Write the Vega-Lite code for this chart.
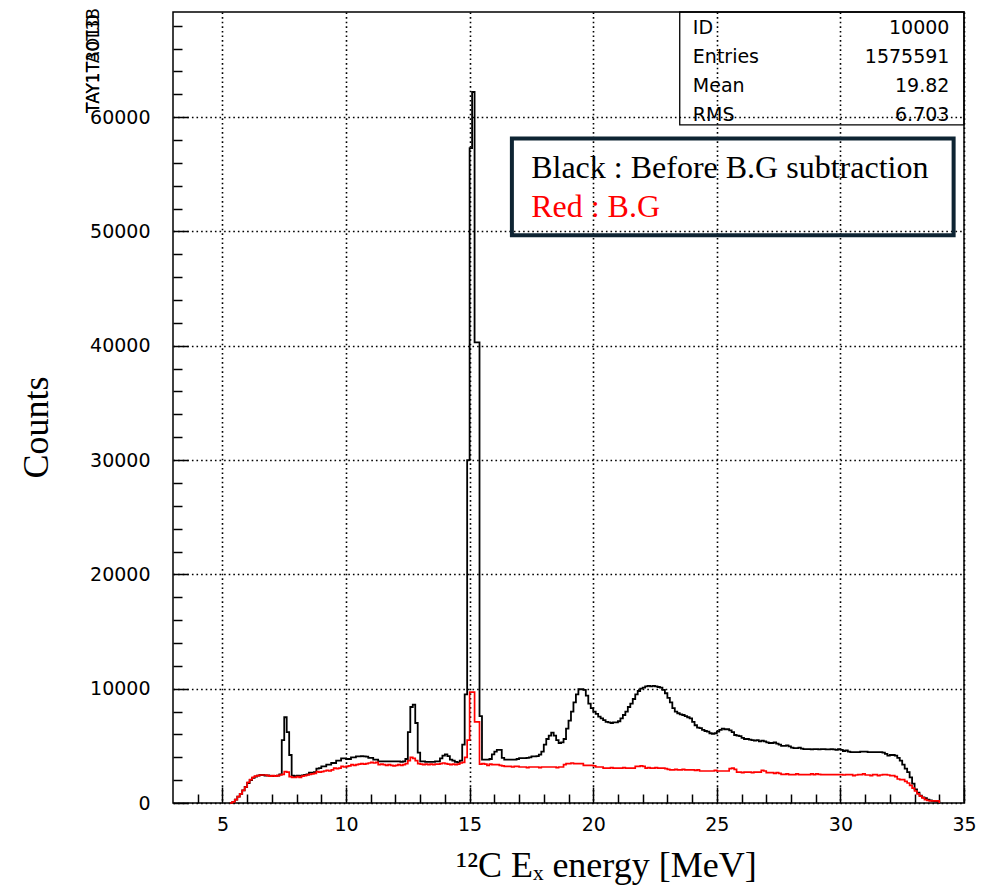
{
  "$schema": "https://vega.github.io/schema/vega-lite/v6.json",
  "width": 791,
  "height": 791,
  "autosize": {"type": "none"},
  "padding": {"left": 173, "top": 12, "right": 17, "bottom": 82},
  "background": "white",
  "config": {"view": {"stroke": "black", "strokeWidth": 1.5}},
  "data": {"values": [
    {"E":5.3,"black":0,"red":0},{"E":5.4,"black":100,"red":100},{"E":5.5,"black":300,"red":300},{"E":5.6,"black":550,"red":550},{"E":5.7,"black":800,"red":800},{"E":5.8,"black":1100,"red":1100},{"E":5.9,"black":1400,"red":1400},
    {"E":6.0,"black":1750,"red":1800},{"E":6.1,"black":2000,"red":2050},{"E":6.2,"black":2200,"red":2250},{"E":6.3,"black":2300,"red":2350},{"E":6.4,"black":2400,"red":2400},{"E":6.5,"black":2450,"red":2450},{"E":6.6,"black":2450,"red":2450},{"E":6.7,"black":2400,"red":2450},{"E":6.8,"black":2420,"red":2400},{"E":6.9,"black":2350,"red":2350},
    {"E":7.0,"black":2350,"red":2400},{"E":7.1,"black":2380,"red":2350},{"E":7.2,"black":2400,"red":2400},{"E":7.3,"black":2500,"red":2450},{"E":7.4,"black":5500,"red":2500},{"E":7.5,"black":7500,"red":2750},{"E":7.6,"black":6200,"red":2700},{"E":7.7,"black":4200,"red":2300},{"E":7.8,"black":2400,"red":2250},{"E":7.9,"black":2350,"red":2250},
    {"E":8.0,"black":2400,"red":2300},{"E":8.1,"black":2380,"red":2250},{"E":8.2,"black":2420,"red":2350},{"E":8.3,"black":2450,"red":2400},{"E":8.4,"black":2500,"red":2450},{"E":8.5,"black":2650,"red":2500},{"E":8.6,"black":2650,"red":2550},{"E":8.7,"black":2700,"red":2600},{"E":8.8,"black":3000,"red":2750},{"E":8.9,"black":3050,"red":2700},
    {"E":9.0,"black":3200,"red":2750},{"E":9.1,"black":3200,"red":2800},{"E":9.2,"black":3350,"red":2850},{"E":9.3,"black":3350,"red":2800},{"E":9.4,"black":3500,"red":2900},{"E":9.5,"black":3500,"red":3050},{"E":9.6,"black":3700,"red":3000},{"E":9.7,"black":3700,"red":3050},{"E":9.8,"black":3900,"red":3200},{"E":9.9,"black":3900,"red":3150},
    {"E":10.0,"black":3850,"red":3200},{"E":10.1,"black":3850,"red":3250},{"E":10.2,"black":4000,"red":3350},{"E":10.3,"black":4000,"red":3300},{"E":10.4,"black":4080,"red":3350},{"E":10.5,"black":4080,"red":3400},{"E":10.6,"black":4100,"red":3450},{"E":10.7,"black":4080,"red":3400},{"E":10.8,"black":4050,"red":3450},{"E":10.9,"black":3950,"red":3500},
    {"E":11.0,"black":3950,"red":3550},{"E":11.1,"black":3800,"red":3500},{"E":11.2,"black":3800,"red":3550},{"E":11.3,"black":3650,"red":3350},{"E":11.4,"black":3650,"red":3400},{"E":11.5,"black":3650,"red":3350},{"E":11.6,"black":3650,"red":3300},{"E":11.7,"black":3650,"red":3350},{"E":11.8,"black":3650,"red":3300},{"E":11.9,"black":3650,"red":3250},
    {"E":12.0,"black":3650,"red":3300},{"E":12.1,"black":3650,"red":3350},{"E":12.2,"black":3600,"red":3300},{"E":12.3,"black":3650,"red":3350},{"E":12.4,"black":3850,"red":3450},{"E":12.5,"black":6200,"red":3700},{"E":12.6,"black":8400,"red":4000},{"E":12.7,"black":8600,"red":3900},{"E":12.8,"black":7000,"red":3700},{"E":12.9,"black":4400,"red":3450},
    {"E":13.0,"black":3650,"red":3400},{"E":13.1,"black":3650,"red":3350},{"E":13.2,"black":3600,"red":3400},{"E":13.3,"black":3600,"red":3350},{"E":13.4,"black":3600,"red":3400},{"E":13.5,"black":3600,"red":3350},{"E":13.6,"black":3650,"red":3400},{"E":13.7,"black":3650,"red":3400},{"E":13.8,"black":3900,"red":3450},{"E":13.9,"black":4150,"red":3500},
    {"E":14.0,"black":4250,"red":3450},{"E":14.1,"black":4100,"red":3400},{"E":14.2,"black":3800,"red":3350},{"E":14.3,"black":3700,"red":3400},{"E":14.4,"black":3600,"red":3350},{"E":14.5,"black":3550,"red":3400},{"E":14.6,"black":3700,"red":3500},{"E":14.7,"black":5100,"red":3550},{"E":14.8,"black":9500,"red":4000},{"E":14.9,"black":30000,"red":5500},
    {"E":15.0,"black":57300,"red":9700},{"E":15.1,"black":62200,"red":9700},{"E":15.2,"black":40300,"red":7100},{"E":15.3,"black":40300,"red":7100},{"E":15.4,"black":7600,"red":3400},{"E":15.5,"black":3800,"red":3450},{"E":15.6,"black":3800,"red":3400},{"E":15.7,"black":3800,"red":3300},{"E":15.8,"black":3850,"red":3400},{"E":15.9,"black":4250,"red":3350},
    {"E":16.0,"black":4500,"red":3350},{"E":16.1,"black":4650,"red":3350},{"E":16.2,"black":4650,"red":3300},{"E":16.3,"black":3950,"red":3250},{"E":16.4,"black":3800,"red":3200},{"E":16.5,"black":3790,"red":3200},{"E":16.6,"black":3790,"red":3200},{"E":16.7,"black":3790,"red":3150},{"E":16.8,"black":3800,"red":3200},{"E":16.9,"black":3850,"red":3200},
    {"E":17.0,"black":3930,"red":3150},{"E":17.1,"black":3930,"red":3150},{"E":17.2,"black":3930,"red":3150},{"E":17.3,"black":3950,"red":3100},{"E":17.4,"black":4000,"red":3150},{"E":17.5,"black":4080,"red":3150},{"E":17.6,"black":4080,"red":3150},{"E":17.7,"black":4100,"red":3150},{"E":17.8,"black":4230,"red":3100},{"E":17.9,"black":4500,"red":3150},
    {"E":18.0,"black":5100,"red":3150},{"E":18.1,"black":5600,"red":3150},{"E":18.2,"black":5900,"red":3150},{"E":18.3,"black":6150,"red":3150},{"E":18.4,"black":5900,"red":3150},{"E":18.5,"black":5500,"red":3100},{"E":18.6,"black":5250,"red":3150},{"E":18.7,"black":5300,"red":3150},{"E":18.8,"black":5600,"red":3350},{"E":18.9,"black":6500,"red":3450},
    {"E":19.0,"black":7200,"red":3450},{"E":19.1,"black":8000,"red":3500},{"E":19.2,"black":8800,"red":3450},{"E":19.3,"black":9500,"red":3450},{"E":19.4,"black":9950,"red":3450},{"E":19.5,"black":9950,"red":3450},{"E":19.6,"black":9900,"red":3300},{"E":19.7,"black":9400,"red":3300},{"E":19.8,"black":8700,"red":3300},{"E":19.9,"black":8300,"red":3300},
    {"E":20.0,"black":8000,"red":3250},{"E":20.1,"black":7800,"red":3150},{"E":20.2,"black":7550,"red":3150},{"E":20.3,"black":7400,"red":3150},{"E":20.4,"black":7250,"red":3050},{"E":20.5,"black":7100,"red":3050},{"E":20.6,"black":7050,"red":3050},{"E":20.7,"black":7000,"red":3100},{"E":20.8,"black":7050,"red":3050},{"E":20.9,"black":7050,"red":3050},
    {"E":21.0,"black":7150,"red":3050},{"E":21.1,"black":7400,"red":3050},{"E":21.2,"black":7700,"red":3100},{"E":21.3,"black":8000,"red":3050},{"E":21.4,"black":8400,"red":3050},{"E":21.5,"black":8700,"red":3050},{"E":21.6,"black":9100,"red":3050},{"E":21.7,"black":9500,"red":3200},{"E":21.8,"black":9800,"red":3200},{"E":21.9,"black":10000,"red":3250},
    {"E":22.0,"black":10100,"red":3200},{"E":22.1,"black":10200,"red":3050},{"E":22.2,"black":10250,"red":3100},{"E":22.3,"black":10200,"red":3050},{"E":22.4,"black":10250,"red":3050},{"E":22.5,"black":10200,"red":3100},{"E":22.6,"black":10150,"red":3050},{"E":22.7,"black":10100,"red":3050},{"E":22.8,"black":9900,"red":3050},{"E":22.9,"black":9600,"red":3000},
    {"E":23.0,"black":9200,"red":2950},{"E":23.1,"black":8800,"red":2900},{"E":23.2,"black":8300,"red":2900},{"E":23.3,"black":8000,"red":2950},{"E":23.4,"black":7850,"red":2900},{"E":23.5,"black":7750,"red":2900},{"E":23.6,"black":7700,"red":2950},{"E":23.7,"black":7600,"red":2900},{"E":23.8,"black":7500,"red":2900},{"E":23.9,"black":7400,"red":2900},
    {"E":24.0,"black":7100,"red":2900},{"E":24.1,"black":6800,"red":2850},{"E":24.2,"black":6600,"red":2900},{"E":24.3,"black":6550,"red":2800},{"E":24.4,"black":6400,"red":2800},{"E":24.5,"black":6300,"red":2800},{"E":24.6,"black":6250,"red":2800},{"E":24.7,"black":6100,"red":2800},{"E":24.8,"black":6050,"red":2800},{"E":24.9,"black":6100,"red":2850},
    {"E":25.0,"black":6250,"red":2800},{"E":25.1,"black":6400,"red":2800},{"E":25.2,"black":6500,"red":2800},{"E":25.3,"black":6450,"red":2800},{"E":25.4,"black":6450,"red":2800},{"E":25.5,"black":6350,"red":3000},{"E":25.6,"black":6200,"red":3050},{"E":25.7,"black":5950,"red":2950},{"E":25.8,"black":5900,"red":2700},{"E":25.9,"black":5850,"red":2700},
    {"E":26.0,"black":5700,"red":2650},{"E":26.1,"black":5600,"red":2700},{"E":26.2,"black":5600,"red":2700},{"E":26.3,"black":5550,"red":2700},{"E":26.4,"black":5500,"red":2650},{"E":26.5,"black":5450,"red":2700},{"E":26.6,"black":5500,"red":2700},{"E":26.7,"black":5400,"red":2700},{"E":26.8,"black":5450,"red":2850},{"E":26.9,"black":5400,"red":2800},
    {"E":27.0,"black":5300,"red":2650},{"E":27.1,"black":5250,"red":2650},{"E":27.2,"black":5250,"red":2650},{"E":27.3,"black":5300,"red":2600},{"E":27.4,"black":5200,"red":2650},{"E":27.5,"black":5100,"red":2600},{"E":27.6,"black":5000,"red":2500},{"E":27.7,"black":5000,"red":2500},{"E":27.8,"black":5050,"red":2550},{"E":27.9,"black":4950,"red":2480},
    {"E":28.0,"black":4850,"red":2480},{"E":28.1,"black":4800,"red":2480},{"E":28.2,"black":4800,"red":2550},{"E":28.3,"black":4850,"red":2480},{"E":28.4,"black":4750,"red":2480},{"E":28.5,"black":4720,"red":2480},{"E":28.6,"black":4720,"red":2480},{"E":28.7,"black":4720,"red":2480},{"E":28.8,"black":4700,"red":2550},{"E":28.9,"black":4720,"red":2480},
    {"E":29.0,"black":4720,"red":2550},{"E":29.1,"black":4700,"red":2500},{"E":29.2,"black":4720,"red":2480},{"E":29.3,"black":4720,"red":2480},{"E":29.4,"black":4700,"red":2480},{"E":29.5,"black":4700,"red":2480},{"E":29.6,"black":4720,"red":2480},{"E":29.7,"black":4700,"red":2480},{"E":29.8,"black":4650,"red":2480},{"E":29.9,"black":4720,"red":2480},
    {"E":30.0,"black":4650,"red":2480},{"E":30.1,"black":4550,"red":2450},{"E":30.2,"black":4600,"red":2480},{"E":30.3,"black":4500,"red":2480},{"E":30.4,"black":4450,"red":2480},{"E":30.5,"black":4450,"red":2400},{"E":30.6,"black":4450,"red":2450},{"E":30.7,"black":4450,"red":2480},{"E":30.8,"black":4500,"red":2480},{"E":30.9,"black":4500,"red":2550},
    {"E":31.0,"black":4500,"red":2450},{"E":31.1,"black":4450,"red":2450},{"E":31.2,"black":4450,"red":2400},{"E":31.3,"black":4450,"red":2480},{"E":31.4,"black":4450,"red":2480},{"E":31.5,"black":4450,"red":2400},{"E":31.6,"black":4450,"red":2450},{"E":31.7,"black":4400,"red":2480},{"E":31.8,"black":4300,"red":2480},{"E":31.9,"black":4150,"red":2450},
    {"E":32.0,"black":4200,"red":2400},{"E":32.1,"black":4200,"red":2400},{"E":32.2,"black":4150,"red":2300},{"E":32.3,"black":3950,"red":2100},{"E":32.4,"black":3700,"red":2050},{"E":32.5,"black":3350,"red":2050},{"E":32.6,"black":3000,"red":1900},{"E":32.7,"black":2700,"red":1750},{"E":32.8,"black":2250,"red":1550},{"E":32.9,"black":1700,"red":1300},
    {"E":33.0,"black":1200,"red":1050},{"E":33.1,"black":900,"red":800},{"E":33.2,"black":650,"red":600},{"E":33.3,"black":500,"red":450},{"E":33.4,"black":420,"red":300},{"E":33.5,"black":300,"red":220},{"E":33.6,"black":230,"red":180},{"E":33.7,"black":180,"red":180},{"E":33.8,"black":150,"red":180},{"E":33.9,"black":120,"red":180},
    {"E":34.0,"black":0,"red":0}
  ]},
  "resolve": {"axis": {"x": "independent", "y": "independent"}},
  "layer": [
    {
      "mark": {"type": "line", "interpolate": "step-after", "color": "black", "strokeWidth": 1.8},
      "encoding": {
        "x": {"field": "E", "type": "quantitative",
          "scale": {"domain": [3, 35], "nice": false, "zero": false},
          "axis": {"orient": "bottom", "values": [5, 10, 15, 20, 25, 30, 35],
            "grid": true, "gridColor": "black", "gridDash": [1.6, 3], "gridWidth": 1.6, "gridOpacity": 1,
            "domain": false, "ticks": true, "tickSize": -16, "tickColor": "black", "tickWidth": 1.5,
            "labelFont": "DejaVu Sans", "labelFontSize": 19, "labelColor": "black", "labelPadding": 28, "labelFlush": false,
            "title": "¹²C Eₓ energy [MeV]", "titleFont": "Liberation Serif", "titleFontSize": 36, "titleFontWeight": "normal",
            "titleColor": "black", "titleX": 433, "titleY": 73, "titleBaseline": "alphabetic", "titleAlign": "center"}},
        "y": {"field": "black", "type": "quantitative",
          "scale": {"domain": [0, 69200], "nice": false},
          "axis": {"orient": "left", "values": [0, 10000, 20000, 30000, 40000, 50000, 60000],
            "grid": true, "gridColor": "black", "gridDash": [1.6, 3], "gridWidth": 1.6, "gridOpacity": 1,
            "domain": false, "ticks": true, "tickSize": -15, "tickColor": "black", "tickWidth": 1.5,
            "labelFont": "DejaVu Sans", "labelFontSize": 19, "labelColor": "black", "labelPadding": 38, "labelFlush": false,
            "format": "d",
            "title": "Counts", "titleFont": "Liberation Serif", "titleFontSize": 36, "titleFontWeight": "normal",
            "titleColor": "black", "titleX": -126, "titleY": 415, "titleBaseline": "alphabetic", "titleAlign": "center", "titleAngle": 270}}
      }
    },
    {
      "mark": {"type": "line", "interpolate": "step-after", "color": "#ff0000", "strokeWidth": 1.7},
      "encoding": {
        "x": {"field": "E", "type": "quantitative",
          "axis": {"orient": "bottom", "values": [4,6,7,8,9,11,12,13,14,16,17,18,19,21,22,23,24,26,27,28,29,31,32,33,34],
            "grid": false, "domain": false, "labels": false, "tickSize": -9, "tickColor": "black", "tickWidth": 1.5, "title": null}},
        "y": {"field": "red", "type": "quantitative",
          "axis": {"orient": "left", "values": [2000,4000,6000,8000,12000,14000,16000,18000,22000,24000,26000,28000,32000,34000,36000,38000,42000,44000,46000,48000,52000,54000,56000,58000,62000,64000,66000,68000],
            "grid": false, "domain": false, "labels": false, "tickSize": -9, "tickColor": "black", "tickWidth": 1.5, "title": null}}
      }
    },
    {
      "data": {"values": [{}]},
      "mark": {"type": "rect", "fill": null, "fillOpacity": 0, "stroke": "black", "strokeWidth": 1.3},
      "encoding": {
        "x": {"datum": 23.5, "type": "quantitative", "axis": null},
        "x2": {"datum": 35},
        "y": {"datum": 59324, "type": "quantitative", "axis": null},
        "y2": {"datum": 69200}
      }
    },
    {
      "data": {"values": [{}]},
      "mark": {"type": "rect", "fill": null, "fillOpacity": 0, "stroke": "#0e2433", "strokeWidth": 4},
      "encoding": {
        "x": {"datum": 16.71, "type": "quantitative", "axis": null},
        "x2": {"datum": 34.58},
        "y": {"datum": 58144, "type": "quantitative", "axis": null},
        "y2": {"datum": 49660}
      }
    },
    {
      "data": {"values": [{}]},
      "mark": {"type": "text", "text": "Black : Before B.G subtraction", "font": "Liberation Serif", "fontSize": 32, "color": "black", "align": "left", "baseline": "alphabetic"},
      "encoding": {
        "x": {"datum": 17.49, "type": "quantitative", "axis": null},
        "y": {"datum": 54660, "type": "quantitative", "axis": null}
      }
    },
    {
      "data": {"values": [{}]},
      "mark": {"type": "text", "text": "Red : B.G", "font": "Liberation Serif", "fontSize": 32, "color": "#ff0000", "align": "left", "baseline": "alphabetic"},
      "encoding": {
        "x": {"datum": 17.49, "type": "quantitative", "axis": null},
        "y": {"datum": 51250, "type": "quantitative", "axis": null}
      }
    },
    {
      "data": {"values": [{}]},
      "mark": {"type": "text", "text": "ID", "font": "DejaVu Sans", "fontSize": 19, "color": "black", "align": "left", "baseline": "alphabetic"},
      "encoding": {"x": {"datum": 24.03, "type": "quantitative", "axis": null}, "y": {"datum": 67240, "type": "quantitative", "axis": null}}
    },
    {
      "data": {"values": [{}]},
      "mark": {"type": "text", "text": "Entries", "font": "DejaVu Sans", "fontSize": 19, "color": "black", "align": "left", "baseline": "alphabetic"},
      "encoding": {"x": {"datum": 24.03, "type": "quantitative", "axis": null}, "y": {"datum": 64700, "type": "quantitative", "axis": null}}
    },
    {
      "data": {"values": [{}]},
      "mark": {"type": "text", "text": "Mean", "font": "DejaVu Sans", "fontSize": 19, "color": "black", "align": "left", "baseline": "alphabetic"},
      "encoding": {"x": {"datum": 24.03, "type": "quantitative", "axis": null}, "y": {"datum": 62160, "type": "quantitative", "axis": null}}
    },
    {
      "data": {"values": [{}]},
      "mark": {"type": "text", "text": "RMS", "font": "DejaVu Sans", "fontSize": 19, "color": "black", "align": "left", "baseline": "alphabetic"},
      "encoding": {"x": {"datum": 24.03, "type": "quantitative", "axis": null}, "y": {"datum": 59700, "type": "quantitative", "axis": null}}
    },
    {
      "data": {"values": [{}]},
      "mark": {"type": "text", "text": "10000", "font": "DejaVu Sans", "fontSize": 19, "color": "black", "align": "right", "baseline": "alphabetic"},
      "encoding": {"x": {"datum": 34.41, "type": "quantitative", "axis": null}, "y": {"datum": 67240, "type": "quantitative", "axis": null}}
    },
    {
      "data": {"values": [{}]},
      "mark": {"type": "text", "text": "1575591", "font": "DejaVu Sans", "fontSize": 19, "color": "black", "align": "right", "baseline": "alphabetic"},
      "encoding": {"x": {"datum": 34.41, "type": "quantitative", "axis": null}, "y": {"datum": 64700, "type": "quantitative", "axis": null}}
    },
    {
      "data": {"values": [{}]},
      "mark": {"type": "text", "text": "19.82", "font": "DejaVu Sans", "fontSize": 19, "color": "black", "align": "right", "baseline": "alphabetic"},
      "encoding": {"x": {"datum": 34.41, "type": "quantitative", "axis": null}, "y": {"datum": 62160, "type": "quantitative", "axis": null}}
    },
    {
      "data": {"values": [{}]},
      "mark": {"type": "text", "text": "6.703", "font": "DejaVu Sans", "fontSize": 19, "color": "black", "align": "right", "baseline": "alphabetic"},
      "encoding": {"x": {"datum": 34.41, "type": "quantitative", "axis": null}, "y": {"datum": 59700, "type": "quantitative", "axis": null}}
    },
    {
      "data": {"values": [{}]},
      "mark": {"type": "text", "text": "TAY1TA0T3B", "font": "DejaVu Sans", "fontSize": 17, "color": "black", "align": "left", "baseline": "alphabetic", "angle": 270},
      "encoding": {"x": {"datum": 0, "type": "quantitative", "axis": null}, "y": {"datum": 60370, "type": "quantitative", "axis": null}}
    },
    {
      "data": {"values": [{}]},
      "mark": {"type": "text", "text": "TAY1T3O1D", "font": "DejaVu Sans", "fontSize": 17, "color": "black", "align": "left", "baseline": "alphabetic", "angle": 270},
      "encoding": {"x": {"datum": 0, "type": "quantitative", "axis": null}, "y": {"datum": 60370, "type": "quantitative", "axis": null}}
    }
  ]
}
